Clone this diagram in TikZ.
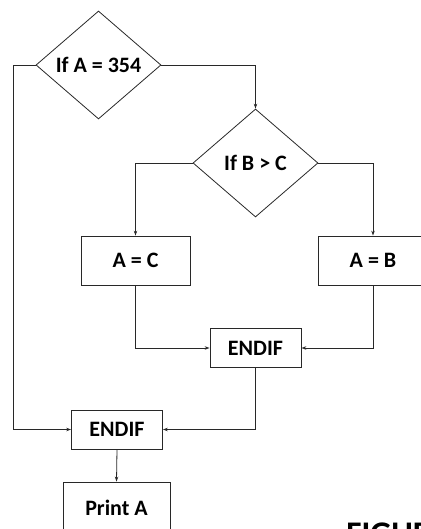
\documentclass[tikz,border=0pt]{standalone}
\usepackage{fontspec}
\setmainfont{Carlito}
\usepackage{tikz}
\usetikzlibrary{
	arrows.meta,
	shapes.geometric,
	positioning
}
\definecolor{InkGray}{RGB}{40,40,40}

\begin{document}
\begin{tikzpicture}[x=1pt, y=-1pt,
		line width=0.8pt, draw=InkGray,
		font=\fontsize{22}{24}\selectfont\bfseries,
		decision/.style={diamond, draw=InkGray, inner sep=0pt, minimum width=125pt, minimum height=108pt},
		stepbox/.style={rectangle, draw=InkGray, inner sep=0pt, minimum width=109pt, minimum height=49pt},
		endbox/.style={rectangle, draw=InkGray, inner sep=0pt, minimum width=91pt, minimum height=39pt},
		arr/.style={-{Stealth[length=5pt, width=3.5pt]}, InkGray}]
				\useasboundingbox (0,0) rectangle (420,529);
				\node[decision] (ifa) at (98.5,65) {If A = 354};
				\node[decision] (ifb) at (255.5,163) {If B > C};
				\node[stepbox] (aeqc) at (135.5,260.5) {A = C};
				\node[stepbox] (aeqb) at (373,260.5) {A = B};
				\node[endbox] (endif1) at (255.5,348) {ENDIF};
				\node[endbox] (endif2) at (117,429.5) {ENDIF};
				\node[stepbox, minimum width=107pt, minimum height=52pt] (printa) at (116.5,508) {Print A};
				\node[anchor=base west, inner sep=0pt, font=\fontsize{33}{36}\selectfont\bfseries] (fig) at (346,544) {FIGURE};
				\draw[arr] (ifa.west) -- ++(-22,0) |- (endif2.west);
				\draw[arr] (ifa.east) -| (ifb.north);
				\draw[arr] (ifb.west) -| (aeqc.north);
				\draw[arr] (ifb.east) -| (aeqb.north);
				\draw[arr] (aeqc.south) |- (endif1.west);
				\draw[arr] (aeqb.south) |- (endif1.east);
				\draw[arr] (endif1.south) |- (endif2.east);
				\draw[arr] (endif2.south) -- (printa.north);
\end{tikzpicture}
\end{document}
